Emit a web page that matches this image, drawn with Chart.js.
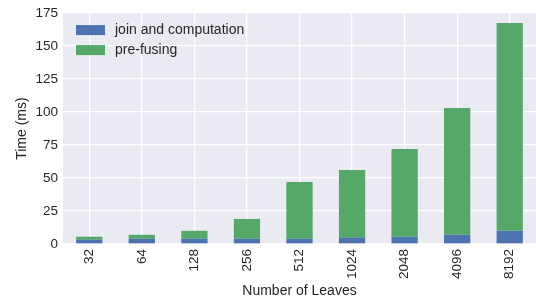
<!DOCTYPE html>
<html>
<head>
<meta charset="utf-8">
<script src="https://cdn.jsdelivr.net/npm/chart.js@4"></script>
<style>
  html, body { margin: 0; padding: 0; background: #fff; }
  #wrap { width: 536px; height: 304px; }
</style>
</head>
<body>
<div id="wrap"><canvas id="chart" width="536" height="304"></canvas></div>
<script>
// values
const leaves = ['32', '64', '128', '256', '512', '1024', '2048', '4096', '8192'];
const joinTime = [3.2, 4.0, 4.0, 4.0, 4.0, 4.8, 5.5, 7.0, 10.0];
const preFusing = [2.3, 3.0, 6.0, 15.0, 43.0, 51.2, 66.5, 96.0, 157.5];
const yTicks = [0, 25, 50, 75, 100, 125, 150, 175];

const textColor = '#262626';
Chart.defaults.font.family = '"Liberation Sans", Arial, sans-serif';
Chart.defaults.font.size = 14;
Chart.defaults.color = textColor;

// seaborn-ish grey panel behind the plot
const panelBg = {
    id: 'panelBg',
    beforeDraw(chart) {
        const a = chart.chartArea, ctx = chart.ctx;
        ctx.save();
        ctx.fillStyle = '#EAEAF2';
        ctx.fillRect(a.left, a.top, a.right - a.left, a.bottom - a.top);
        ctx.restore();
    }
};

// legend drawn inside the plot, top-left
const innerLegend = {
    id: 'innerLegend',
    afterDraw(chart) {
        const a = chart.chartArea, ctx = chart.ctx;
        ctx.save();
        ctx.font = '14px "Liberation Sans", Arial, sans-serif';
        ctx.textBaseline = 'middle';
        chart.data.datasets.forEach((ds, i) => {
            const y = a.top + 17 + i * 20;
            ctx.fillStyle = ds.backgroundColor;
            ctx.fillRect(a.left + 13, y - 5, 29, 10);
            ctx.fillStyle = textColor;
            ctx.fillText(ds.label, a.left + 52, y);
        });
        ctx.restore();
    }
};

new Chart(document.getElementById('chart'), {
    type: 'bar',
    data: {
        labels: leaves,
        datasets: [
            { label: 'join and computation', data: joinTime, backgroundColor: '#4C72B0' },
            { label: 'pre-fusing', data: preFusing, backgroundColor: '#55A868' }
        ]
    },
    options: {
        responsive: false,
        animation: false,
        layout: { padding: { top: 12, right: 0, left: 0, bottom: 0 } },
        datasets: { bar: { barPercentage: 0.5, categoryPercentage: 1.0 } },
        plugins: { legend: { display: false }, tooltip: { enabled: false } },
        scales: {
            x: {
                stacked: true,
                grid: { color: '#ffffff', lineWidth: 1.3, offset: false, drawTicks: false },
                border: { display: false },
                ticks: { maxRotation: 90, minRotation: 90, padding: 5, font: { size: 13.5 } },
                title: { display: true, text: 'Number of Leaves', font: { size: 14 }, padding: { top: 4, bottom: 4 } },
                afterFit(scale) { scale.height = 60; }
            },
            y: {
                stacked: true,
                min: 0,
                max: 175,
                afterBuildTicks(scale) { scale.ticks = yTicks.map(v => ({ value: v })); },
                grid: { color: '#ffffff', lineWidth: 1.3, drawTicks: false },
                border: { display: false },
                ticks: { padding: 5, font: { size: 13.5 } },
                title: { display: true, text: 'Time (ms)', font: { size: 14 }, padding: { top: 14, bottom: 4 } },
                afterFit(scale) { scale.width = 63; }
            }
        }
    },
    plugins: [panelBg, innerLegend]
});
</script>
</body>
</html>
